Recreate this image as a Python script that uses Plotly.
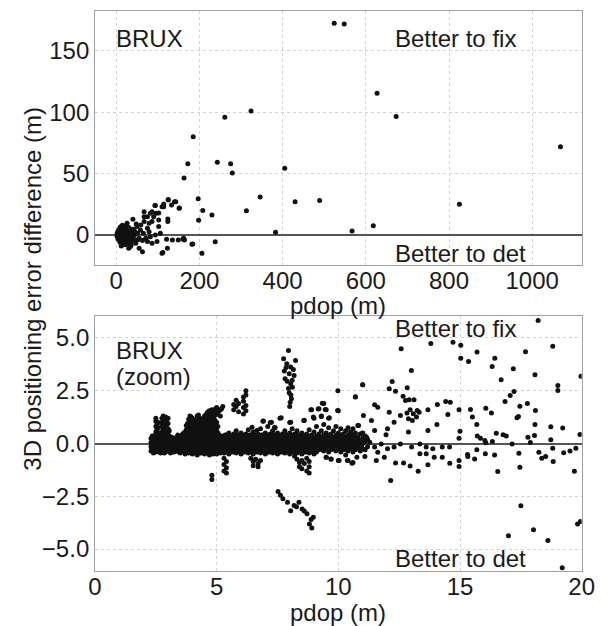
import plotly.graph_objects as go

# ---------------- top panel: full pdop range ----------------
# dense core near the origin, columns of (pdop, [differences])
top_core = [
    (2, [-1, 1]),
    (4, [-3, 0, 3]),
    (6, [-4, -1, 2, 4]),
    (9, [-6, -3, 0, 3, 6]),
    (12, [-5, -2, 1, 4, 7]),
    (15, [-7, -4, -1, 2, 5, 8]),
    (18, [-6, -3, 0, 3, 6]),
    (21, [-8, -5, -2, 1, 4, 7]),
    (24, [-6, -3, 0, 3, 5]),
    (27, [-7, -4, -1, 2, 5]),
    (30, [-5, -2, 1, 4, 6]),
    (33, [-4, -1, 2, 5]),
    (36, [-6, -3, 0, 3]),
    (40, [-2, 1, 4]),
    (44, [-4, 0, 3]),
]
top_sparse = [
    (524, 172.7), (548, 172), (627, 115.6), (673, 96.5), (1068, 72), (489, 28), (825, 25),
    (567, 3.3), (618, 7.6), (324, 101), (261, 96), (185, 80), (172, 58), (163, 46.5),
    (243, 59.3), (275, 58), (279, 50.6), (405, 54.4), (346, 31), (430, 27), (313, 19.8),
    (383, 2.2), (197, 29.6), (208, 20), (198, 12), (230, 16.3), (238, -5.5), (206, -15),
    (182, -7.6), (112, -14.4), (160, -3.3), (124, 13), (152, 22), (125, 28.5), (140, 27),
    (114, 23), (93, 24), (102, 18), (67, 19), (40, 12.8), (59, 8.2), (67, 10.9), (75, 14.9),
    (86, 19), (94, 24), (110, 23), (125, 29), (143, 27), (133, 24.5), (151, 21.8), (114, 25.3),
    (86, 10.9), (96, 17.7), (102, 6.8), (124, 10.9), (75, 5.4), (51, 1.4), (71, -2.7),
    (82, -1.4), (94, 0), (106, 1.4), (86, -6.8), (98, -5.4), (121, -3.5), (135, -4.1),
    (149, -4.1), (162, -2.7), (164, -4.1), (184, -7.3), (55, -10.9), (63, -13.6), (30, -10.9),
    (36, -8.2), (47, -6.8), (110, -15), (123, -10.9), (42, 4.6), (50, 6.8), (58, 4), (65, 1.4),
    (79, 2.7), (55, -2.7), (63, -4.6), (75, -5.4), (67, 14.9), (79, 9.5), (90, 14.9),
    (102, 12.2), (82, 17.7), (26, 9.5), (12, -9), (48, 9), (52, -4), (34, -9.5),
]

# ---------------- bottom panel: zoom 0-20 m ----------------
zoom_band = [
    (2.3, [-0.35, -0.15, 0.05, 0.25]),
    (2.4, [-0.45, -0.2, 0, 0.2, 0.35]),
    (2.5, [-0.4, -0.15, 0.05, 0.3, 0.55, 0.8, 1.05, 1.2]),
    (2.6, [-0.3, -0.1, 0.1, 0.3, 0.5, 0.75, 1.0]),
    (2.7, [-0.45, -0.25, 0, 0.2, 0.4]),
    (2.8, [-0.35, -0.1, 0.15, 0.4, 0.65, 0.9, 1.15, 1.3]),
    (2.9, [-0.4, -0.2, 0.05, 0.3, 0.55, 0.8, 1.05, 1.25]),
    (3.0, [-0.3, -0.05, 0.2, 0.45, 0.7, 0.95, 1.2]),
    (3.1, [-0.45, -0.2, 0, 0.25]),
    (3.2, [-0.35, -0.1, 0.15]),
    (3.3, [-0.2, 0.05, 0.2]),
    (3.4, [-0.3, -0.05, 0.2, 0.4]),
    (3.5, [-0.45, -0.2, 0.05, 0.3]),
    (3.6, [-0.35, -0.1, 0.15, 0.45]),
    (3.7, [-0.5, -0.25, 0, 0.25, 0.55]),
    (3.8, [-0.4, -0.15, 0.1, 0.35, 0.7, 0.95]),
    (3.9, [-0.3, -0.05, 0.2, 0.5, 0.8, 1.1, 1.3]),
    (4.0, [-0.5, -0.2, 0.05, 0.3, 0.6, 0.9, 1.2]),
    (4.1, [-0.4, -0.1, 0.15, 0.45, 0.75, 1.0]),
    (4.2, [-0.55, -0.3, 0, 0.25, 0.55, 0.85, 1.3]),
    (4.3, [-0.45, -0.2, 0.1, 0.35, 0.65, 0.95, 1.2]),
    (4.4, [-0.35, -0.05, 0.2, 0.5, 0.8, 1.05]),
    (4.5, [-0.5, -0.25, 0, 0.3, 0.6, 0.9, 1.3]),
    (4.6, [-0.4, -0.1, 0.15, 0.45, 0.75, 1.1, 1.45]),
    (4.7, [-0.55, -0.3, -0.05, 0.25, 0.55, 0.9, 1.2, 1.55]),
    (4.8, [-0.45, -0.2, 0.1, 0.4, 0.7, 1.0, 1.35, 1.6, -1.5, -1.7]),
    (4.9, [-0.35, -0.1, 0.2, 0.5, 0.85, 1.15, 1.5]),
    (5.0, [-0.5, -0.25, 0, 0.3, 0.6, 1.0, 1.4, 1.7]),
    (5.1, [-0.4, -0.15, 0.1, 0.4, 1.55]),
    (5.2, [-0.3, -0.05, 0.2, 1.65]),
    (5.3, [-0.45, -0.2, 0.05, 0.3, -0.7, -1.0, -1.3]),
    (5.4, [-0.35, -0.1, 0.15, 0.4, -0.85, -1.15, -1.4]),
    (5.5, [-0.5, -0.25, 0, 0.25, 0.5]),
    (5.6, [-0.4, -0.15, 0.1, 0.35]),
    (5.7, [-0.3, -0.05, 0.2, 0.45, 1.6, 1.85]),
    (5.8, [-0.45, -0.2, 0.05, 0.3, 0.6, 2.05, 1.75]),
    (5.9, [-0.35, -0.1, 0.15, 0.4, 1.5, 1.9]),
    (6.0, [-0.5, -0.25, 0, 0.25, 0.5]),
    (6.1, [-0.4, -0.15, 0.1, 0.35, 1.4, 1.7, 2.0, 2.2]),
    (6.2, [-0.3, -0.05, 0.2, 0.45, 1.55, 1.8, 2.3, 2.5]),
    (6.3, [-0.45, -0.2, 0.05, 0.3, 0.65]),
    (6.4, [-0.35, -0.1, 0.15, 0.4, -0.7]),
    (6.5, [-0.5, -0.25, 0, 0.25, 0.55, -0.85, -1.05]),
    (6.6, [-0.4, -0.15, 0.1, 0.35, -0.75]),
    (6.7, [-0.3, -0.05, 0.2, 0.45, -0.95, -1.1]),
    (6.8, [-0.45, -0.2, 0.05, 0.3, 0.7, -0.8]),
    (6.9, [-0.35, -0.1, 0.15, 0.4, 1.05]),
    (7.0, [-0.5, -0.25, 0, 0.25, 0.5]),
    (7.1, [-0.4, -0.15, 0.1, 0.35, 0.8]),
    (7.2, [-0.3, -0.05, 0.2, 0.45, 1.0]),
    (7.3, [-0.45, -0.2, 0.05, 0.3, 0.6]),
    (7.4, [-0.35, -0.1, 0.15, 0.4, 0.75]),
    (7.5, [-0.5, -0.25, 0, 0.25, 0.5]),
    (7.6, [-0.4, -0.15, 0.1, 0.35, 1.2]),
    (7.7, [-0.3, -0.05, 0.2, 0.45]),
    (7.8, [-0.45, -0.2, 0.05, 0.3, 0.6]),
    (7.9, [-0.35, -0.1, 0.15, 0.4]),
    (8.0, [-0.5, -0.25, 0, 0.25, 0.5, 1.0]),
    (8.1, [-0.4, -0.15, 0.1, 0.35, 0.7]),
    (8.2, [-0.3, -0.05, 0.2, 0.45, -0.6]),
    (8.3, [-0.45, -0.2, 0.05, 0.3, 0.6, -0.75]),
    (8.4, [-0.35, -0.1, 0.15, 0.4, -0.9, -1.1]),
    (8.5, [-0.5, -0.25, 0, 0.25, 0.5, -0.8, -1.2]),
    (8.6, [-0.4, -0.15, 0.1, 0.35, 1.1, -0.95]),
    (8.7, [-0.3, -0.05, 0.2, 0.45, -0.7, -1.3]),
    (8.8, [-0.45, -0.2, 0.05, 0.3, 0.65, -0.85, -1.1, -1.4]),
    (8.9, [-0.35, -0.1, 0.15, 0.4, 1.6]),
    (9.0, [-0.5, -0.25, 0, 0.25, 0.55, 1.2]),
    (9.1, [-0.4, -0.15, 0.1, 0.35, 0.8]),
    (9.2, [-0.3, -0.05, 0.2, 0.45, 1.65]),
    (9.3, [-0.2, 0.05, 0.3, 0.6, 1.3]),
    (9.4, [-0.35, -0.1, 0.15, 0.4, 0.9, 1.9]),
    (9.5, [-0.25, 0, 0.25, 0.5, -0.65, 1.6]),
    (9.6, [-0.4, -0.15, 0.1, 0.35, 0.75, 1.2]),
    (9.7, [-0.3, -0.05, 0.2, 0.45, -0.75]),
    (9.8, [-0.2, 0.05, 0.3, 0.6]),
    (9.9, [-0.35, -0.1, 0.15, 0.4, 0.8]),
    (10.0, [-0.25, 0, 0.25, 0.5, -0.8, 1.55]),
    (10.1, [-0.4, -0.15, 0.1, 0.35, 0.7]),
    (10.2, [-0.3, -0.05, 0.2, 0.45]),
    (10.3, [-0.2, 0.05, 0.3, 0.6, -0.55]),
    (10.4, [-0.35, -0.1, 0.15, 0.4, 0.75, -0.8]),
    (10.5, [-0.25, 0, 0.25, 0.55]),
    (10.6, [-0.4, -0.15, 0.1, 0.35, 0.7, -0.9]),
    (10.7, [-0.3, -0.05, 0.2, 0.5, 2.2]),
    (10.8, [-0.2, 0.05, 0.3, 0.85]),
    (10.9, [-0.35, -0.1, 0.15, 0.45]),
    (11.0, [-0.25, 0, 0.25, 0.5, 2.78]),
    (11.1, [-0.3, 0.1, 0.35]),
    (11.2, [-0.15, 0.2]),
]
zoom_band_fill = [
    (2.35, [-0.25, -0.05, 0.15, 0.35]),
    (2.45, [-0.3, -0.1, 0.1, 0.3]),
    (2.55, [-0.3, -0.05, 0.15, 0.4, 0.65, 0.9]),
    (2.65, [-0.4, -0.2, 0, 0.2, 0.4]),
    (2.75, [-0.35, -0.15, 0.1, 0.3, 0.55, 0.8, 1.0, 1.2]),
    (2.85, [-0.45, -0.25, 0, 0.25, 0.5, 0.75, 1.0, 1.2]),
    (2.95, [-0.3, -0.1, 0.15, 0.4, 0.65, 0.9, 1.15]),
    (3.05, [-0.35, -0.15, 0.1, 0.35, 0.6]),
    (3.15, [-0.3, -0.05, 0.1, 0.3]),
    (3.25, [-0.4, -0.2, 0, 0.25]),
    (3.35, [-0.35, -0.15, 0.1, 0.3]),
    (3.45, [-0.4, -0.2, 0.05, 0.3]),
    (3.55, [-0.3, -0.1, 0.15, 0.35]),
    (3.65, [-0.4, -0.2, 0.05, 0.3, 0.5]),
    (3.75, [-0.35, -0.1, 0.15, 0.4, 0.65, 0.85]),
    (3.85, [-0.45, -0.2, 0, 0.25, 0.55, 0.85, 1.15]),
    (3.95, [-0.4, -0.15, 0.1, 0.4, 0.7, 1.0, 1.25]),
    (4.05, [-0.3, -0.05, 0.2, 0.45, 0.75, 1.05]),
    (4.15, [-0.45, -0.25, 0.05, 0.3, 0.6, 0.9, 1.15]),
    (4.25, [-0.35, -0.1, 0.15, 0.45, 0.75, 1.05, 1.35]),
    (4.35, [-0.45, -0.25, 0, 0.25, 0.55, 0.85]),
    (4.45, [-0.4, -0.15, 0.1, 0.4, 0.7, 0.95, 1.2]),
    (4.55, [-0.3, -0.05, 0.2, 0.5, 0.8, 1.05, 1.35]),
    (4.65, [-0.45, -0.2, 0.05, 0.35, 0.65, 0.95, 1.3, 1.5]),
    (4.75, [-0.4, -0.15, 0.15, 0.45, 0.8, 1.1, 1.4]),
    (4.85, [-0.5, -0.3, 0, 0.3, 0.6, 0.95, 1.25, 1.55]),
    (4.95, [-0.45, -0.2, 0.1, 0.4, 0.7, 1.05, 1.35, 1.65]),
    (5.05, [-0.3, -0.05, 0.2, 0.5, 0.8, 1.5]),
    (5.15, [-0.45, -0.2, 0, 0.3, 1.6, 1.3]),
    (5.25, [-0.35, -0.15, 0.1, 0.35, 1.75]),
    (5.35, [-0.3, -0.05, 0.2, 0.4]),
    (5.45, [-0.4, -0.2, 0.05, 0.3]),
    (5.55, [-0.35, -0.1, 0.15, 0.35]),
    (5.65, [-0.4, -0.2, 0, 0.25]),
    (5.75, [-0.35, -0.15, 0.1, 0.35]),
    (5.85, [-0.3, -0.05, 0.2, 0.4]),
    (5.95, [-0.4, -0.2, 0.05, 0.3]),
    (6.05, [-0.35, -0.1, 0.15, 0.4]),
    (6.15, [-0.4, -0.2, 0, 0.25]),
    (6.25, [-0.35, -0.15, 0.1, 0.35]),
    (6.35, [-0.3, -0.05, 0.2, 0.4]),
    (6.45, [-0.4, -0.2, 0.05, 0.3]),
    (6.55, [-0.35, -0.1, 0.15, 0.4]),
    (6.65, [-0.4, -0.2, 0, 0.25]),
    (6.75, [-0.35, -0.15, 0.1, 0.35]),
    (6.85, [-0.3, -0.05, 0.2, 0.4]),
    (6.95, [-0.4, -0.2, 0.05, 0.3]),
    (7.05, [-0.35, -0.1, 0.15, 0.4]),
    (7.15, [-0.4, -0.2, 0, 0.25]),
    (7.25, [-0.35, -0.15, 0.1, 0.35]),
    (7.35, [-0.3, -0.05, 0.2, 0.4]),
    (7.45, [-0.4, -0.2, 0.05, 0.3]),
    (7.55, [-0.35, -0.1, 0.15, 0.4]),
    (7.65, [-0.4, -0.2, 0, 0.25]),
    (7.75, [-0.35, -0.15, 0.1, 0.35]),
    (7.85, [-0.3, -0.05, 0.2, 0.4]),
    (7.95, [-0.4, -0.2, 0.05, 0.3]),
    (8.05, [-0.35, -0.1, 0.15, 0.4]),
    (8.15, [-0.4, -0.2, 0, 0.25]),
    (8.25, [-0.35, -0.15, 0.1, 0.35]),
    (8.35, [-0.3, -0.05, 0.2, 0.4]),
    (8.45, [-0.4, -0.2, 0.05, 0.3]),
    (8.55, [-0.35, -0.1, 0.15, 0.4]),
    (8.65, [-0.4, -0.2, 0, 0.25]),
    (8.75, [-0.35, -0.15, 0.1, 0.35]),
    (8.85, [-0.3, -0.05, 0.2]),
    (8.95, [-0.4, -0.2, 0.05, 0.3]),
    (9.05, [-0.35, -0.1, 0.15]),
    (9.15, [-0.2, 0, 0.25]),
    (9.35, [-0.3, -0.05, 0.2]),
    (9.55, [-0.15, 0.1, 0.35]),
    (9.75, [-0.25, 0, 0.25]),
    (9.95, [-0.1, 0.15, 0.4]),
    (10.15, [-0.2, 0.05, 0.3]),
    (10.35, [-0.3, -0.05, 0.2]),
    (10.55, [-0.15, 0.1, 0.4]),
    (10.75, [-0.25, 0, 0.3]),
    (10.95, [-0.15, 0.1]),
]
zoom_spike_up = [
    (7.95, 4.41), (7.75, 4.01), (7.88, 3.78), (8.24, 3.93), (8.04, 3.62), (7.78, 3.43),
    (7.98, 3.3), (8.18, 3.22), (7.81, 3.07), (8.04, 2.83), (8.11, 2.67), (7.98, 2.4),
    (8.07, 2.12), (8.0, 1.75), (7.85, 3.6), (8.15, 3.5), (8.1, 3.0), (7.9, 2.95),
    (7.95, 2.6), (8.05, 2.3), (8.02, 1.95),
]
zoom_spike_down = [
    (7.52, -2.27), (7.72, -2.62), (7.91, -2.78), (8.18, -2.94), (8.04, -3.18), (8.38, -2.78),
    (8.51, -3.1), (8.71, -3.33), (8.97, -3.49), (8.81, -3.81), (8.91, -4.0), (7.62, -2.45),
    (8.28, -3.0), (8.6, -3.2), (8.88, -3.6),
]
zoom_sparse = [
    (18.21, 5.83), (14.71, 4.8), (15.03, 4.66), (15.03, 4.04), (15.35, 3.89), (15.7, 4.33),
    (16.43, 4.04), (16.32, 3.65), (16.69, 3.02), (17.19, 3.54), (17.69, 4.35), (18.08, 3.26),
    (18.81, 4.61), (19.02, 2.75), (19.02, 2.51), (19.97, 3.18), (13.8, 4.74),
    (14.41, 1.99), (14.6, 1.96), (14.5, 1.37), (14.96, 1.6), (15.43, 1.61), (15.51, 1.25),
    (15.69, 0.9), (15.0, 0.58), (14.96, 0.25), (16.06, 1.67), (16.29, 1.45), (15.71, 0.36),
    (15.84, 0.25), (16.02, 0.14), (16.06, 0.03), (16.33, 0.09), (16.49, 0.49), (16.77, 0.41),
    (16.9, 0.35), (17.14, -0.02), (16.85, 1.99), (17.06, 2.27), (17.22, 2.46), (17.46, 1.77),
    (17.77, 1.9), (17.34, 1.22), (17.4, 1.28), (18.1, 1.56), (18.08, 0.9), (18.06, 0.38),
    (17.79, 0.3), (17.89, 0.05), (18.73, 0.79), (18.73, 0.18), (19.22, 0.74), (19.93, 0.43),
    (14.27, -0.17), (14.57, -0.17), (14.27, -0.65), (14.58, -0.93), (14.96, -0.81),
    (14.96, -1.09), (15.31, -0.52), (15.32, -0.62), (15.6, -0.73), (15.69, -0.3),
    (16.04, -0.49), (16.42, -0.54), (16.55, -1.33), (17.42, -0.46), (17.46, -1.12),
    (18.24, -0.41), (18.36, -0.7), (18.52, -0.62), (18.83, -0.85), (18.81, -0.22),
    (19.26, -0.44), (19.52, -0.36), (19.76, -0.22), (19.7, -1.31),
    (17.5, -2.95), (18.02, -4.08), (16.99, -4.37), (18.61, -4.6), (19.83, -3.81),
    (19.95, -3.7), (19.2, -5.89),
    (12.58, 4.49), (13.0, 3.46), (9.98, 2.5), (11.0, 2.78), (10.7, 2.21), (12.09, 2.59),
    (12.21, 2.94), (12.35, 2.48), (12.83, 2.64), (12.66, 2.24), (12.76, 2.04), (12.91, 2.07),
    (13.11, 2.07), (11.49, 1.83), (11.62, 1.72), (12.09, 1.48), (12.55, 1.33), (12.82, 1.44),
    (12.95, 1.6), (13.08, 1.41), (13.24, 1.56), (13.32, 1.48), (12.88, 1.17), (13.04, 1.09),
    (13.21, 1.25), (13.68, 1.6), (14.07, 1.85), (14.05, 0.9), (13.68, 0.62), (12.88, 0.54),
    (12.29, 1.01), (12.02, 0.7), (11.96, 0.41), (11.49, 0.62), (11.36, 1.09), (11.03, 1.33),
    (10.83, 0.85), (10.99, 0.49), (11.16, 0.3), (11.29, 0.06), (11.49, -0.17), (11.76, -0.02),
    (12.02, -0.25), (12.29, -0.17), (12.55, -0.02), (13.01, -0.17), (13.35, -0.02),
    (13.61, -0.17), (13.88, -0.25), (11.62, -0.41), (11.89, -0.65), (11.56, -0.81),
    (12.35, -0.92), (12.68, -0.92), (12.95, -1.07), (13.28, -1.31), (13.68, -1.01),
    (13.35, -0.49), (13.61, -0.49), (13.94, -0.65), (12.15, -1.75), (10.37, -0.81),
    (10.56, -0.93), (10.03, -0.81), (9.7, -0.73), (9.5, -0.65), (10.76, -0.65), (11.09, -0.62),
    (6.92, 1.06), (7.25, 1.01), (7.65, 1.22), (8.58, 1.09), (8.87, 1.6), (9.17, 1.64),
    (9.34, 1.91), (9.46, 1.61), (8.97, 1.25), (9.3, 1.28), (9.63, 1.22), (9.97, 1.56),
    (6.45, 0.77), (6.65, 0.62), (7.38, 0.77), (8.04, 1.01),
]


def flatten_cols(cols):
    xs, ys = [], []
    for x, yl in cols:
        for y in yl:
            xs.append(x)
            ys.append(y)
    return xs, ys


def unzip(pts):
    return [p[0] for p in pts], [p[1] for p in pts]


tx1, ty1 = flatten_cols(top_core)
tx2, ty2 = unzip(top_sparse)
top_pdop = tx1 + tx2
top_diff = ty1 + ty2

zx = []
zy = []
for xs, ys in [flatten_cols(zoom_band), flatten_cols(zoom_band_fill), unzip(zoom_spike_up),
               unzip(zoom_spike_down), unzip(zoom_sparse)]:
    zx += xs
    zy += ys

FONT = "Liberation Sans, Arial, sans-serif"
marker = dict(color="#111111", size=5)

fig = go.Figure()
fig.add_trace(go.Scatter(x=top_pdop, y=top_diff, mode="markers", marker=marker,
                         xaxis="x", yaxis="y", showlegend=False, hoverinfo="skip"))
fig.add_trace(go.Scatter(x=zx, y=zy, mode="markers", marker=marker,
                         xaxis="x2", yaxis="y2", showlegend=False, hoverinfo="skip"))

ax = dict(showline=True, linewidth=1, linecolor="#a0a0a0", mirror=True,
          showgrid=True, gridcolor="#d4d4d4", griddash="dot", gridwidth=1,
          ticks="", tickfont=dict(size=24, color="#1a1a1a", family=FONT), zeroline=False)
xtick = dict(ticks="outside", ticklen=1, tickcolor="rgba(0,0,0,0)", ticklabelstandoff=-7)

xd = [91 / 615, 594 / 615]
fig.update_layout(
    width=615, height=626,
    margin=dict(l=0, r=0, t=0, b=0),
    paper_bgcolor="white", plot_bgcolor="white",
    font=dict(family=FONT, size=24, color="#1a1a1a"),
    xaxis=dict(ax, **xtick, domain=xd, anchor="y", range=[-51, 1119],
               tickvals=[0, 200, 400, 600, 800, 1000]),
    yaxis=dict(ax, domain=[1 - 265 / 626, 1 - 11 / 626], anchor="x", range=[-24.5, 182.6],
               tickvals=[0, 50, 100, 150], zeroline=True, zerolinecolor="#555555",
               zerolinewidth=1.5),
    xaxis2=dict(ax, **xtick, domain=xd, anchor="y2", range=[0, 20], tickvals=[0, 5, 10, 15, 20]),
    yaxis2=dict(ax, domain=[1 - 571 / 626, 1 - 316 / 626], anchor="x2", range=[-6.04, 6.04],
                tickvals=[-5, -2.5, 0, 2.5, 5], tickformat=".1f", zeroline=True,
                zerolinecolor="#555555", zerolinewidth=1.5),
)

ann = []


def txt(text, x, y, xref, yref, xanchor="center", angle=0):
    ann.append(dict(text=text, x=x, y=y, xref=xref, yref=yref, xanchor=xanchor,
                    yanchor="middle", showarrow=False, textangle=angle, borderpad=0,
                    font=dict(size=24, family=FONT, color="#1a1a1a")))


txt("BRUX", 0.042, 0.892, "x domain", "y domain", "left")
txt("Better to fix", 0.614, 0.892, "x domain", "y domain", "left")
txt("Better to det", 0.614, 0.046, "x domain", "y domain", "left")
txt("BRUX", 0.042, 0.863, "x2 domain", "y2 domain", "left")
txt("(zoom)", 0.042, 0.761, "x2 domain", "y2 domain", "left")
txt("Better to fix", 0.614, 0.951, "x2 domain", "y2 domain", "left")
txt("Better to det", 0.614, 0.049, "x2 domain", "y2 domain", "left")
txt("pdop (m)", 342.5 / 615, 1 - 305 / 626, "paper", "paper")
txt("pdop (m)", 342.5 / 615, 1 - 612 / 626, "paper", "paper")
txt("3D positioning error difference (m)", 26 / 615, 1 - 288.5 / 626, "paper", "paper", angle=-90)
fig.update_layout(annotations=ann)

fig.write_html("out.html")
